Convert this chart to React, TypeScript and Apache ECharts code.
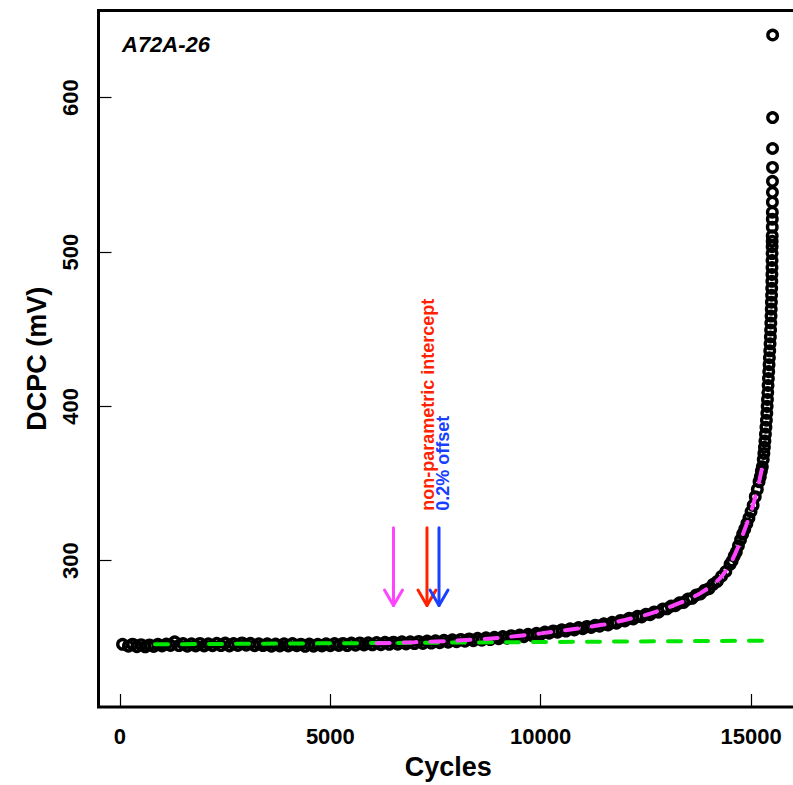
import React, { useEffect, useRef } from "react";
import * as echarts from "echarts";

const specimen = "A72A-26";
const xTicks = [0, 5000, 10000, 15000];
const yTicks = [300, 400, 500, 600];
const xRange = [-511, 16116];
const yRange = [205.2, 656.5];

// [cycle, DCPC mV]
const flatPoints = [
  [60, 245.8], [200, 244.6], [300, 245.9], [400, 244.3], [500, 245.6], [600, 244.2], [700, 245.4],
  [800, 244.4], [900, 245.8], [1000, 244.7], [1100, 246.0], [1200, 245.1], [1300, 247.4], [1400, 245.0],
  [1500, 246.3], [1600, 244.6], [1700, 246.1], [1800, 244.8], [1900, 246.4], [2000, 244.7], [2100, 246.2],
  [2200, 244.9], [2300, 246.5], [2400, 245.0], [2500, 246.6], [2600, 244.8], [2700, 246.3], [2800, 245.1],
  [2900, 246.7], [3000, 245.3], [3100, 246.5], [3200, 244.9], [3300, 246.2], [3400, 245.0], [3500, 246.1],
  [3600, 244.6], [3700, 246.0], [3800, 244.7], [3900, 246.2], [4000, 244.8], [4100, 246.3], [4200, 244.9],
  [4300, 245.9], [4400, 244.5], [4500, 246.0], [4600, 244.6], [4700, 245.8], [4800, 244.7], [4900, 246.1],
  [5000, 244.9], [5100, 246.3], [5200, 245.1], [5300, 246.4], [5400, 245.0], [5500, 246.6], [5600, 245.2],
  [5700, 246.7], [5800, 245.4], [5900, 246.8], [6000, 245.5], [6100, 247.0], [6200, 245.6], [6300, 247.1],
  [6400, 245.8], [6500, 247.2], [6600, 245.9], [6700, 247.4], [6800, 246.1], [6900, 247.5], [7000, 246.3],
  [7100, 247.7], [7200, 246.4], [7300, 247.9], [7400, 246.6], [7500, 248.1], [7600, 246.9], [7700, 248.4],
  [7800, 247.2], [7900, 248.7], [8000, 247.5], [8100, 249.0], [8200, 247.8], [8300, 249.3], [8400, 248.2],
  [8500, 249.7], [8600, 248.5], [8700, 250.0], [8800, 248.9], [8900, 250.4], [9000, 249.4], [9100, 250.9],
  [9200, 249.8], [9300, 251.4], [9400, 250.3], [9500, 251.8], [9600, 250.8], [9700, 252.3], [9800, 251.4],
  [9900, 252.9],
];

const kneePoints = [
  [10000, 252.3], [10100, 253.8], [10200, 253.0], [10300, 254.5], [10400, 253.7], [10500, 255.2],
  [10600, 254.4], [10700, 255.9], [10800, 255.1], [10900, 256.7], [11000, 255.9], [11100, 257.4],
  [11200, 256.7], [11300, 258.2], [11400, 257.5], [11500, 259.1], [11600, 258.4], [11700, 260.1],
  [11800, 259.5], [11900, 261.3], [12000, 260.9], [12100, 262.7], [12200, 262.3], [12300, 264.0],
  [12400, 263.6], [12500, 265.3], [12600, 265.0], [12700, 266.8], [12800, 266.6], [12900, 268.7],
  [13000, 268.8], [13100, 270.6], [13200, 270.8], [13300, 272.7], [13400, 273.0], [13500, 275.1],
  [13600, 275.6], [13700, 277.8], [13800, 278.5], [13900, 280.9], [14000, 281.9], [14100, 284.7],
  [14200, 286.6], [14300, 289.9], [14400, 293.0], [14500, 297.6], [14550, 299.8], [14600, 303.0],
  [14650, 305.6], [14700, 309.7], [14750, 313.5], [14800, 317.2], [14850, 320.4], [14900, 324.0],
  [14950, 327.6], [15000, 331.8], [15050, 335.8], [15100, 341.5], [15150, 346.2], [15190, 351.2],
  [15220, 354.4], [15245, 358.0], [15268, 360.8],
];

const steepPoints = [
  [15290, 365.5], [15305, 369.5], [15318, 373.5], [15330, 377.5], [15342, 382.0], [15354, 386.5],
  [15365, 391.0], [15375, 395.5], [15383, 400.0], [15390, 404.5], [15397, 409.0], [15404, 413.5],
  [15412, 418.0], [15420, 422.5], [15428, 427.0], [15436, 431.5], [15444, 436.0], [15452, 440.5],
  [15459, 445.0], [15465, 449.5], [15470, 454.0], [15475, 458.5], [15480, 463.0], [15484, 467.5],
  [15488, 472.0], [15491, 476.5], [15494, 481.0], [15496, 485.5], [15498, 490.0], [15499, 494.5],
  [15500, 499.0], [15501, 503.5], [15502, 507.0], [15503, 510.5], [15504, 516.1], [15505, 521.3],
  [15506, 525.8], [15507, 532.3], [15508, 538.7], [15509, 545.8], [15510, 554.8], [15511, 567.1],
  [15512, 587.1], [15513, 640.6],
];

const baselineFit = [[832, 245.8], [15540, 248.2]];

const curveFit = [
  [6100, 246.5], [7000, 247.2], [8000, 248.2], [9000, 250.0], [10000, 252.9], [11000, 256.5],
  [11500, 258.6], [12000, 261.6], [12500, 264.9], [13000, 269.4], [13500, 274.8], [13800, 279.0],
  [14100, 284.6], [14300, 289.8], [14500, 297.5], [14700, 309.4], [14900, 324.0], [15000, 331.6],
  [15100, 341.3], [15200, 352.2], [15290, 364.0],
];

const arrowCycles = [6501, 7297, 7583];
const arrowTop = 321.3;
const arrowTip = 271;
const arrowColors = ["#ff44ff", "#ff2200", "#1a40ff"];

const labelTexts = ["non-parametric intercept", "0.2% offset"];
const labelCycles = [7321, 7678];
const labelValue = 332.3;
const labelColors = ["#ff2200", "#1a40ff"];

const FONT = "'Liberation Sans', Arial, sans-serif";

export default function App() {
  const ref = useRef<HTMLDivElement>(null);
  useEffect(() => {
    document.body.style.overflow = "hidden";
    const chart = echarts.init(ref.current!, null, { renderer: "svg" });
    const points = [...flatPoints, ...kneePoints, ...steepPoints];
    chart.setOption({
      animation: false,
      backgroundColor: "#ffffff",
      title: {
        text: specimen,
        left: 122,
        top: 33,
        padding: 0,
        textStyle: { fontFamily: FONT, fontSize: 22, fontWeight: "bold", fontStyle: "italic", color: "#000" },
      },
      grid: { left: 98.5, top: 10.5, right: 2, bottom: 75, show: true, borderColor: "#000", borderWidth: 3, backgroundColor: "transparent" },
      xAxis: {
        type: "value",
        min: xRange[0],
        max: xRange[1],
        name: "Cycles",
        nameLocation: "middle",
        nameGap: 46,
        nameTextStyle: { fontFamily: FONT, fontSize: 27, fontWeight: "bold", color: "#000" },
        axisLine: { show: false, onZero: false },
        axisTick: { show: true, inside: true, length: 13, customValues: xTicks, lineStyle: { color: "#000", width: 1.2 } },
        axisLabel: {
          customValues: xTicks,
          formatter: (v: number) => String(v),
          margin: 18,
          fontFamily: FONT,
          fontSize: 22,
          fontWeight: "bold",
          color: "#000",
        },
        splitLine: { show: false },
      },
      yAxis: {
        type: "value",
        min: yRange[0],
        max: yRange[1],
        name: "DCPC (mV)",
        nameLocation: "middle",
        nameGap: 48,
        nameRotate: 90,
        nameTextStyle: { fontFamily: FONT, fontSize: 27, fontWeight: "bold", color: "#000" },
        axisLine: { show: false, onZero: false },
        axisTick: { show: true, inside: true, length: 13, customValues: yTicks, lineStyle: { color: "#000", width: 1.2 } },
        axisLabel: {
          customValues: yTicks,
          formatter: (v: number) => String(v),
          rotate: 90,
          margin: 17,
          fontFamily: FONT,
          fontSize: 22,
          fontWeight: "bold",
          color: "#000",
        },
        splitLine: { show: false },
      },
      series: [
        {
          type: "scatter",
          data: points,
          symbol: "circle",
          symbolSize: 9.5,
          silent: true,
          itemStyle: { color: "transparent", borderColor: "#000", borderWidth: 3.4, opacity: 1 },
          z: 2,
        },
        {
          type: "line",
          data: baselineFit,
          showSymbol: false,
          silent: true,
          lineStyle: { color: "#00e600", width: 4, type: [13, 14], cap: "round" },
          z: 3,
        },
        {
          type: "line",
          data: curveFit,
          showSymbol: false,
          silent: true,
          smooth: 0.2,
          lineStyle: { color: "#ff44ff", width: 4, type: [13, 14], cap: "round" },
          z: 4,
        },
        {
          type: "custom",
          silent: true,
          z: 5,
          data: arrowCycles.map((c) => [c, arrowTop, arrowTip]),
          renderItem: (params: any, api: any) => {
            const x = api.value(0);
            const top = api.coord([x, api.value(1)]);
            const tip = api.coord([x, api.value(2)]);
            const color = arrowColors[params.dataIndex];
            const style = { stroke: color, lineWidth: 3, fill: "none", lineCap: "round", lineJoin: "round" };
            return {
              type: "group",
              children: [
                { type: "line", shape: { x1: top[0], y1: top[1], x2: tip[0], y2: tip[1] }, style },
                {
                  type: "polyline",
                  shape: { points: [[tip[0] - 9, tip[1] - 15.5], [tip[0], tip[1]], [tip[0] + 9, tip[1] - 15.5]] },
                  style,
                },
              ],
            };
          },
        },
        {
          type: "custom",
          silent: true,
          z: 6,
          data: labelCycles.map((c) => [c, labelValue]),
          renderItem: (params: any, api: any) => {
            const p = api.coord([api.value(0), api.value(1)]);
            return {
              type: "text",
              x: p[0],
              y: p[1],
              rotation: Math.PI / 2,
              style: {
                text: labelTexts[params.dataIndex],
                fill: labelColors[params.dataIndex],
                fontFamily: FONT,
                fontSize: 18,
                fontWeight: "bold",
                align: "left",
                verticalAlign: "middle",
              },
            };
          },
        },
      ],
    });
    return () => chart.dispose();
  }, []);
  return <div ref={ref} style={{ position: "fixed", left: 0, top: 0, width: 800, height: 785 }} />;
}
